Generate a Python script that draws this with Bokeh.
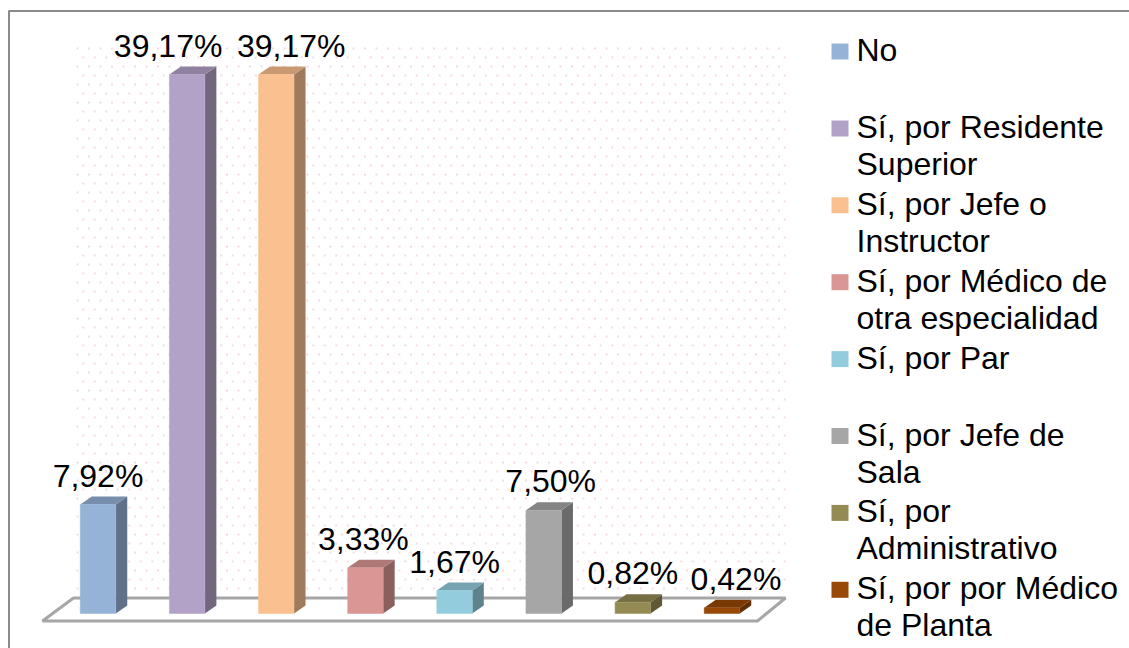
import numpy as np
from bokeh.plotting import figure
from bokeh.models import Range1d, ColumnDataSource
from bokeh.core.properties import value
from bokeh.embed import file_html
from bokeh.resources import INLINE

# ---------------- data ----------------
categories = [
    "No",
    "Sí, por Residente\nSuperior",
    "Sí, por Jefe o\nInstructor",
    "Sí, por Médico de\notra especialidad",
    "Sí, por Par",
    "Sí, por Jefe de\nSala",
    "Sí, por\nAdministrativo",
    "Sí, por por Médico\nde Planta",
]
values = [7.92, 39.17, 39.17, 3.33, 1.67, 7.50, 0.82, 0.42]
value_labels = ["7,92%", "39,17%", "39,17%", "3,33%", "1,67%", "7,50%", "0,82%", "0,42%"]
colors = ["#95b3d7", "#b3a2c7", "#fac090", "#d99694", "#93cddd", "#a6a6a6", "#948a54", "#984807"]

# ---------------- layout / style ----------------
FONT = "Liberation Sans"
FS = "32px"
W, H = 1129, 648
PX_X = 89.14          # pixels per category
PX_Y = 13.76          # pixels per percent
X0_PX = 97.5          # page x of first category centre
Y0_PX = 613.0         # page y of value 0
TXT_FIX = 10.5        # baseline correction (px, upward)
label_dx_px = [0, -19, 15, -2, 0, 7, 0, 14]

def X(px):
    return (px - X0_PX) / PX_X

def Y(py):
    return (Y0_PX - py) / PX_Y

def shade(hexc, f):
    h = hexc.lstrip("#")
    r, g, b = (int(h[i:i + 2], 16) for i in (0, 2, 4))
    return "#%02x%02x%02x" % (int(r * f), int(g * f), int(b * f))

p = figure(width=W, height=H, x_range=Range1d(X(0), X(W)), y_range=Range1d(Y(H), Y(0)),
           output_backend="svg", toolbar_location=None, min_border=0,
           x_axis_location=None, y_axis_location=None)
p.xgrid.visible = False
p.ygrid.visible = False
p.outline_line_color = None
p.background_fill_color = "white"
p.border_fill_color = "white"

# frame lines (left and top)
p.line([X(8.5), X(8.5), X(W + 5)], [Y(H + 5), Y(10.5), Y(10.5)],
       line_color="#8a8a8a", line_width=2)

# dotted back wall pattern
dx_list, dy_list = [], []
row = 0
py = 48.0
while py < 597:
    px = 77.0 + (5.75 if row % 2 else 0.0)
    while px < 787:
        dx_list.append(X(px))
        dy_list.append(Y(py))
        px += 11.5
    py += 9.0
    row += 1
p.scatter(dx_list, dy_list, marker="square", size=2, fill_color="#f2c2cb", line_color=None,
          fill_alpha=0.6)

# floor
floor_x = [X(42), X(757), X(785), X(73)]
floor_y = [Y(620.5), Y(620.5), Y(597.5), Y(597.5)]
p.patch(floor_x, floor_y, fill_color="white", line_color="#a6a6a6", line_width=3)

# bars (3D look)
n = len(values)
xs = list(range(n))
bw = 35.5 / PX_X
ddx = 11.5 / PX_X
ddy = 8.0 / PX_Y

side_xs, side_ys, top_xs, top_ys = [], [], [], []
for i, v in zip(xs, values):
    l, r = i - bw / 2, i + bw / 2
    side_xs.append([r, r + ddx, r + ddx, r])
    side_ys.append([0, ddy, v + ddy, v])
    top_xs.append([l, r, r + ddx, l + ddx])
    top_ys.append([v, v, v + ddy, v + ddy])

p.patches(side_xs, side_ys, fill_color=[shade(c, 0.64) for c in colors], line_color=None)
p.patches(top_xs, top_ys, fill_color=[shade(c, 0.80) for c in colors], line_color=None)
p.quad(left=[i - bw / 2 for i in xs], right=[i + bw / 2 for i in xs], bottom=0, top=values,
       fill_color=colors, line_color=colors, line_width=0.5)

# value labels
src = ColumnDataSource(dict(
    x=[i + d / PX_X for i, d in zip(xs, label_dx_px)],
    y=[v + (18.5 + TXT_FIX) / PX_Y for v in values],
    t=value_labels))
p.text(x="x", y="y", text="t", source=src, text_font=value(FONT), text_font_size=FS,
       text_align="center", text_baseline="alphabetic", text_color="black")

# legend (manual)
LEG_SQ_X = 839.5
LEG_Y0 = 51.0
LEG_STEP = 76.9
LEG_TXT_X = 856.0
LINE_H = 37.0
sq_x, sq_y = [], []
lx, ly, lt = [], [], []
for k, lab in enumerate(categories):
    cy = LEG_Y0 + k * LEG_STEP
    sq_x.append(X(LEG_SQ_X))
    sq_y.append(Y(cy))
    for j, line in enumerate(lab.split("\n")):
        lx.append(X(LEG_TXT_X))
        ly.append(Y(cy + 9.0 + j * LINE_H - TXT_FIX))
        lt.append(line)
p.rect(sq_x, sq_y, width=17, height=16, width_units="screen", height_units="screen",
       fill_color=colors, line_color=None)
p.text(lx, ly, text=lt, text_font=value(FONT), text_font_size=FS,
       text_align="left", text_baseline="alphabetic", text_color="black")

open("out.html", "w").write(file_html(p, INLINE))
